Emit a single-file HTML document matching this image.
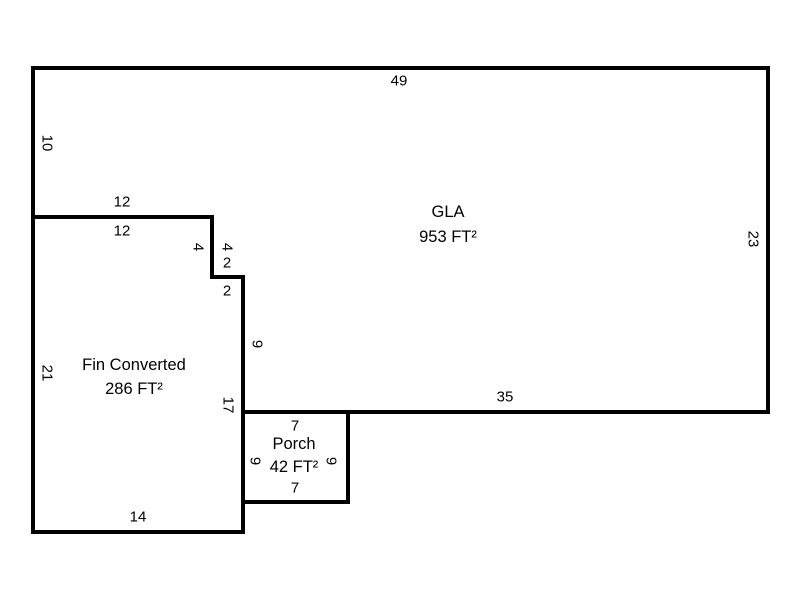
<!DOCTYPE html>
<html><head><style>html,body{margin:0;padding:0;background:#fff}</style></head><body>
<svg width="800" height="600" xmlns="http://www.w3.org/2000/svg" font-family="Liberation Sans, Arial, sans-serif" font-size="15" fill="#000">
<g stroke="#000" stroke-width="4" fill="none" stroke-linecap="square">
<polyline points="33,68 768,68 768,412 243,412"/>
<polyline points="33,68 33,532 243,532 243,277 212,277 212,217 33,217"/>
<polyline points="243,412 348,412 348,502 243,502"/>
</g>
<g text-anchor="middle" dominant-baseline="central">
<text x="399" y="81">49</text>
<text x="122" y="202">12</text>
<text x="122" y="231">12</text>
<text x="227" y="263">2</text>
<text x="227" y="291">2</text>
<text x="505" y="397">35</text>
<text x="295" y="426">7</text>
<text x="295" y="488">7</text>
<text x="138" y="517">14</text>
<g font-size="16.5">
<text x="448" y="212">GLA</text>
<text x="448" y="237">953 FT²</text>
<text x="134" y="365">Fin Converted</text>
<text x="134" y="389">286 FT²</text>
<text x="294" y="444">Porch</text>
<text x="294" y="467">42 FT²</text>
</g>
<text transform="translate(47,143) rotate(90)">10</text>
<text transform="translate(753,239) rotate(90)">23</text>
<text transform="translate(198,247) rotate(90)">4</text>
<text transform="translate(227,247) rotate(90)">4</text>
<text transform="translate(257,344) rotate(90)">9</text>
<text transform="translate(47,373) rotate(90)">21</text>
<text transform="translate(228,405) rotate(90)">17</text>
<text transform="translate(255,461) rotate(90)">9</text>
<text transform="translate(331,461) rotate(90)">9</text>
</g>
</svg>
</body></html>
